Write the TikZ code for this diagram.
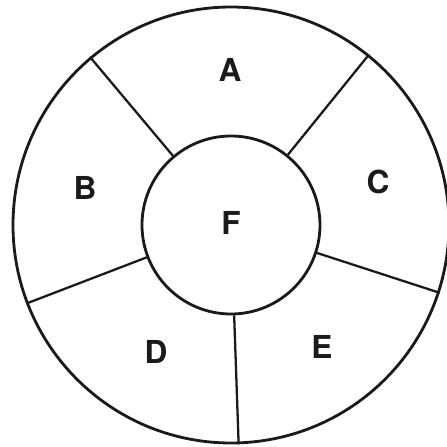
\documentclass[tikz,border=0pt]{standalone}
\usepackage{fontspec}
\setsansfont{TeX Gyre Heros}
\definecolor{mInk}{HTML}{1A1A1A}
\usepackage{tikz}
\usetikzlibrary{positioning}

\begin{document}
\begin{tikzpicture}[font=\sffamily\bfseries\fontsize{18}{18}\selectfont]
\useasboundingbox (-4.62,-4.44) rectangle (4.32,4.50);
\node[circle, draw=mInk, line width=1.6pt, minimum size=8.72cm, inner sep=0pt] (outer) at (0,0) {};
\node[circle, draw=mInk, line width=1.6pt, minimum size=3.56cm, inner sep=0pt] (inner) at (0,0) {};
\foreach \a in {130,51,-18,-88,201} \draw[mInk, line width=1.3pt] (inner.\a) -- (outer.\a);
\node[mInk] (lblA) at (-0.02,3.10) {A};
\node[mInk] (lblB) at (-2.92,0.74) {B};
\node[mInk] (lblC) at (2.94,0.86) {C};
\node[mInk] (lblD) at (-1.50,-2.54) {D};
\node[mInk] (lblE) at (1.82,-2.44) {E};
\node[mInk] (lblF) at (0,0.04) {F};
\end{tikzpicture}
\end{document}
